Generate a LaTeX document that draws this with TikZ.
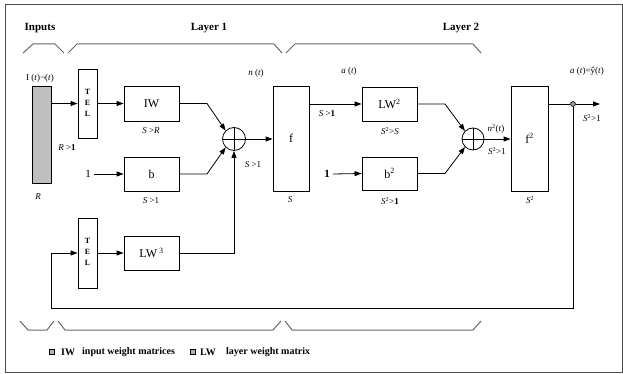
\documentclass[tikz,border=0pt]{standalone}
\usepackage{fontspec}
\setmainfont{Liberation Serif}
\usetikzlibrary{arrows.meta}
\begin{document}
\begin{tikzpicture}[x=1pt,y=-1pt,
  box/.style={draw,line width=0.8pt,inner sep=0pt,font=\fontsize{12}{14}\selectfont},
  sumc/.style={draw,circle,line width=0.8pt,minimum size=23pt,inner sep=0pt},
  arr/.style={-{Triangle[length=7pt,width=5pt]},line width=0.8pt},
  ln/.style={line width=0.8pt},
  brace/.style={draw=black!60,line width=1pt},
  lbl/.style={inner sep=0pt,font=\fontsize{9}{10}\selectfont},
  ttl/.style={inner sep=0pt,font=\fontsize{11}{13}\selectfont\bfseries},
  tdlt/.style={inner sep=0pt,font=\fontsize{8}{9}\selectfont\bfseries}]
\useasboundingbox (0,0) rectangle (623,374);
\draw[black!70,line width=1pt] (5,5) rectangle (622.5,372.5);
% titles
\node[ttl] (tin) at (40,28) {Inputs};
\node[ttl] (tl1) at (209,28) {Layer 1};
\node[ttl] (tl2) at (461,28) {Layer 2};
% top braces
\draw[brace] (23,53) -- (33,44) -- (55,44) -- (64,53);
\draw[brace] (68,53) -- (77,44) -- (274,44) -- (282,53);
\draw[brace] (286,53) -- (295,44) -- (473,44) -- (481,53);
% bottom braces
\draw[brace] (20,321) -- (28,330) -- (47,330) -- (54,321);
\draw[brace] (58,321) -- (65,330) -- (273,330) -- (281,321);
\draw[brace] (285,321) -- (292,330) -- (473,330) -- (481,321);
% blocks
\node[box,fill=black!25,minimum width=19pt,minimum height=97pt] (in) at (41.5,134.5) {};
\node[box,minimum width=19pt,minimum height=69pt] (tdl1) at (87.5,103.5) {};
\node[tdlt] (t1a) at (87.5,92) {T};
\node[tdlt] (t1b) at (87.5,103) {E};
\node[tdlt] (t1c) at (87.5,114) {L};
\node[box,minimum width=55pt,minimum height=35pt] (iw) at (151.5,103.5) {IW};
\node[box,minimum width=55pt,minimum height=34pt] (b) at (151.5,174) {b};
\node[box,minimum width=19pt,minimum height=70pt] (tdl2) at (87.5,253) {};
\node[tdlt] (t2a) at (87.5,241) {T};
\node[tdlt] (t2b) at (87.5,252) {E};
\node[tdlt] (t2c) at (87.5,263) {L};
\node[box,minimum width=55pt,minimum height=34pt] (lw) at (151.5,253) {LW\,\textsuperscript{3}};
\node[sumc] (s1) at (234,139) {};
\draw[ln] (s1.north) -- (s1.south) (s1.west) -- (s1.east);
\node[box,minimum width=36pt,minimum height=105pt] (f) at (291,138.5) {f};
\node[box,minimum width=55pt,minimum height=34pt] (lw2) at (389.5,104) {LW\textsuperscript{2}};
\node[box,minimum width=55pt,minimum height=33pt] (b2) at (389.5,173.5) {b\textsuperscript{2}};
\node[sumc,minimum size=22pt] (s2) at (473,139) {};
\draw[ln] (s2.north) -- (s2.south) (s2.west) -- (s2.east);
\node[box,minimum width=37pt,minimum height=105pt] (f2) at (529.5,138.5) {f\textsuperscript{2}};
\node[draw,circle,fill=black!40,minimum size=5pt,inner sep=0pt,line width=0.6pt] (dot) at (573,104) {};
\coordinate (out) at (600,104);
\node[lbl,font=\fontsize{11}{12}\selectfont] (one1) at (88,174) {1};
\node[lbl,font=\fontsize{11}{12}\selectfont\bfseries] (one2) at (327,174) {1};
% bends
\coordinate (k1) at (207,103.5);
\coordinate (k2) at (207,174);
\coordinate (k3) at (445,104);
\coordinate (k4) at (445,173.5);
\coordinate (fb1) at (573,308);
\coordinate (fb2) at (51,308);
\coordinate (fb3) at (51,253);
% connectors
\draw[arr] (in.east |- tdl1) -- (tdl1.west);
\draw[arr] (tdl1.east) -- (iw.west);
\draw[arr] (iw.east) -- (k1) -- (s1.135);
\draw[arr] (one1.east) ++(3,0) -- (b.west);
\draw[arr] (b.east) -- (k2) -- (s1.225);
\draw[arr] (tdl2.east) -- (lw.west);
\draw[arr] (lw.east) -- (s1 |- lw) -- (s1.south);
\draw[arr] (s1.east) -- (f.west |- s1);
\draw[arr] (f.east |- lw2) -- (lw2.west);
\draw[arr] (one2.east) ++(3,0) -- (b2.west);
\draw[arr] (lw2.east) -- (k3) -- (s2.135);
\draw[arr] (b2.east) -- (k4) -- (s2.225);
\draw[arr] (s2.east) -- (f2.west |- s2);
\draw[ln] (f2.east |- dot) -- (dot.west);
\draw[arr] (dot.east) -- (out);
\draw[arr] (dot.south) -- (fb1) -- (fb2) -- (fb3) -- (tdl2.west);
% labels
\node[lbl] (lp) at (40,78) {I (\textit{t})¬(\textit{t})};
\node[lbl] (lr1) at (67,148) {\textit{R} >\textbf{1}};
\node[lbl] (lr) at (38,197) {\textit{R}};
\node[lbl] (lsr) at (151,131) {\textit{S} >\textit{R}};
\node[lbl] (ls1b) at (151,201) {\textit{S} >1};
\node[lbl] (ln1) at (256,73) {\textit{n} (\textit{t})};
\node[lbl] (ls1) at (253,165) {\textit{S} >1};
\node[lbl] (ls) at (290,200) {\textit{S}};
\node[lbl] (la1) at (349,71) {\textit{a} (\textit{t})};
\node[lbl] (ls1c) at (327,114) {\textit{S} >\textbf{1}};
\node[lbl] (ls2s) at (390,131) {\textit{S}\textsuperscript{2}>\textit{S}};
\node[lbl] (ls21) at (390,201) {\textit{S}\textsuperscript{2}>\textbf{1}};
\node[lbl] (ln2) at (496,129) {\textit{n}\textsuperscript{2}(\textit{t})};
\node[lbl] (ls21b) at (497,151) {\textit{S}\textsuperscript{2}>1};
\node[lbl] (ls2) at (530,200) {\textit{S}\textsuperscript{2}};
\node[lbl] (la2) at (587,71) {\textit{a} (\textit{t})=ŷ(\textit{t})};
\node[lbl] (ls21c) at (592,118) {\textit{S}\textsuperscript{2}>1};
% legend
\node[draw,fill=black!30,minimum size=5pt,inner sep=0pt,line width=0.5pt] (sq1) at (52,352) {};
\node[ttl,anchor=west,font=\fontsize{10}{12}\selectfont\bfseries] (lg1) at (61,352) {IW};
\node[ttl,anchor=west,font=\fontsize{10}{12}\selectfont\bfseries] (lg2) at (82,352) {input weight matrices};
\node[draw,fill=black!30,minimum size=5pt,inner sep=0pt,line width=0.5pt] (sq2) at (193,352) {};
\node[ttl,anchor=west,font=\fontsize{10}{12}\selectfont\bfseries] (lg3) at (200,352) {LW};
\node[ttl,anchor=west,font=\fontsize{10}{12}\selectfont\bfseries] (lg4) at (226,352) {layer weight matrix};
\end{tikzpicture}
\end{document}
